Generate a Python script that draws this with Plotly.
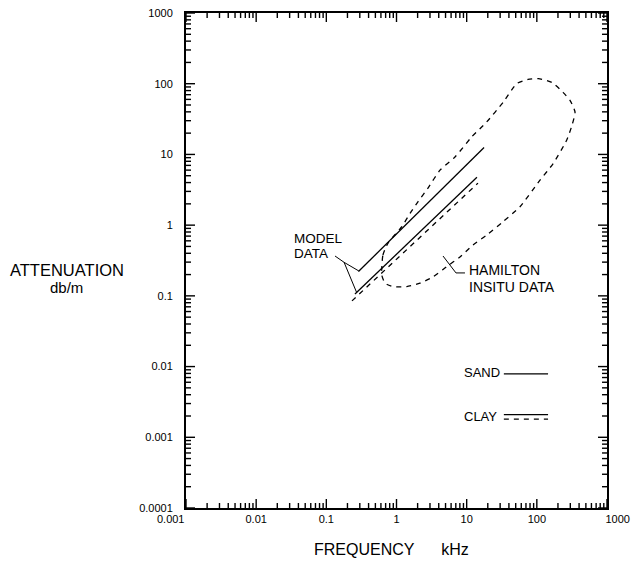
import plotly.graph_objects as go

# ---- axis ticks ----
x_tick_vals = [0.001, 0.01, 0.1, 1, 10, 100, 1000]
x_tick_text = ["0.001", "0.01", "0.1", "1", "10", "100", "1000"]
y_tick_vals = [0.0001, 0.001, 0.01, 0.1, 1, 10, 100, 1000]
y_tick_text = ["0.0001", "0.001", "0.01", "0.1", "1", "10", "100", "1000"]

# ---- model data (frequency kHz, attenuation dB/m) ----
sand_freq = [0.287, 17.7]
sand_atten = [0.221, 12.5]
clay_solid_freq = [0.256, 14.0]
clay_solid_atten = [0.106, 4.77]
clay_dash_freq = [0.232, 14.5]
clay_dash_atten = [0.085, 3.93]

# ---- Hamilton in-situ data envelope (closed loop) ----
hamilton_freq = [0.615, 0.641, 0.757, 1.19, 1.56, 2.02, 2.81, 4.17, 6.82, 11.8,
                 19.3, 33.3, 51.6, 74.8, 105, 164, 236, 297, 350, 317, 266,
                 171, 111, 57.5, 33.0, 19.3, 12.3, 8.03, 5.19, 3.31, 2.16,
                 1.40, 0.90, 0.686, 0.615, 0.615]
hamilton_atten = [0.232, 0.378, 0.558, 0.95, 1.47, 2.14, 3.34, 5.99, 9.2, 17.7,
                  28.8, 55.1, 100, 115, 118, 104, 75.5, 58.2, 39.8, 25.8, 15.9,
                  7.44, 4.33, 1.82, 1.12, 0.724, 0.524, 0.355, 0.259, 0.185,
                  0.151, 0.135, 0.135, 0.151, 0.198, 0.232]

# ---- leader lines for labels ----
model_leader_freq = [0.133, 0.179, 0.29, None, 0.179, 0.27]
model_leader_atten = [0.366, 0.298, 0.225, None, 0.298, 0.112]
hamilton_leader_freq = [4.60, 7.04, 9.46]
hamilton_leader_atten = [0.366, 0.211, 0.211]

FONT = "Liberation Sans, Arial, sans-serif"
DASH = "5px,5px"

W, H = 632, 564
ML, MR, MT, MB = 186, 25, 13, 56
X_RANGE = [-3, 3]
Y_RANGE = [-4, 3]

fig = go.Figure()
fig.add_trace(go.Scatter(x=sand_freq, y=sand_atten, mode="lines",
                         line=dict(color="black", width=1.3), showlegend=False))
fig.add_trace(go.Scatter(x=clay_solid_freq, y=clay_solid_atten, mode="lines",
                         line=dict(color="black", width=1.3), showlegend=False))
fig.add_trace(go.Scatter(x=clay_dash_freq, y=clay_dash_atten, mode="lines",
                         line=dict(color="black", width=1.3, dash=DASH), showlegend=False))
fig.add_trace(go.Scatter(x=hamilton_freq, y=hamilton_atten, mode="lines",
                         line=dict(color="black", width=1.3, dash=DASH, shape="spline",
                                   smoothing=0.6),
                         showlegend=False))
fig.add_trace(go.Scatter(x=model_leader_freq, y=model_leader_atten, mode="lines",
                         line=dict(color="black", width=1.0), showlegend=False,
                         connectgaps=False))
fig.add_trace(go.Scatter(x=hamilton_leader_freq, y=hamilton_leader_atten, mode="lines",
                         line=dict(color="black", width=1.0), showlegend=False))

# ---- inside tick marks on all four sides (derived from the log scales) ----
px_per_dec_x = (W - ML - MR) / (X_RANGE[1] - X_RANGE[0])
px_per_dec_y = (H - MT - MB) / (Y_RANGE[1] - Y_RANGE[0])
x_minor = [m * 10.0 ** e for e in range(X_RANGE[0], X_RANGE[1]) for m in range(2, 10)]
y_minor = [m * 10.0 ** e for e in range(Y_RANGE[0], Y_RANGE[1]) for m in range(2, 10)]

def tick_segments(length_px):
    dy = length_px / px_per_dec_y
    dx = length_px / px_per_dec_x
    return dx, dy

tx, ty = [], []
for vals, L in ((x_tick_vals, 9), (x_minor, 5)):
    dx, dy = tick_segments(L)
    for v in vals:
        tx += [v, v, None, v, v, None]
        ty += [10 ** Y_RANGE[0], 10 ** (Y_RANGE[0] + dy), None,
               10 ** Y_RANGE[1], 10 ** (Y_RANGE[1] - dy), None]
for vals, L in ((y_tick_vals, 9), (y_minor, 5)):
    dx, dy = tick_segments(L)
    for v in vals:
        tx += [10 ** X_RANGE[0], 10 ** (X_RANGE[0] + dx), None,
               10 ** X_RANGE[1], 10 ** (X_RANGE[1] - dx), None]
        ty += [v, v, None, v, v, None]
fig.add_trace(go.Scatter(x=tx, y=ty, mode="lines", line=dict(color="black", width=1.4),
                         showlegend=False, hoverinfo="skip", cliponaxis=False))

nb = "\u00a0"
x_text_disp = list(x_tick_text)
x_text_disp[0] = x_text_disp[0] + nb * 10
x_text_disp[-1] = nb * 7 + x_text_disp[-1]
y_text_disp = [t + nb * 3 for t in y_tick_text]

axis_common = dict(type="log", tickmode="array", ticks="",
                   showline=True, linecolor="black", linewidth=1.6,
                   mirror=True, showgrid=False, zeroline=False, automargin=False,
                   tickfont=dict(family=FONT, size=11, color="black"))

fig.update_xaxes(range=X_RANGE, tickvals=x_tick_vals, ticktext=x_text_disp, **axis_common)
fig.update_yaxes(range=Y_RANGE, tickvals=y_tick_vals, ticktext=y_text_disp, **axis_common)

ann = []
def add_text(txt, x, y, size, xanchor="left"):
    ann.append(dict(text=txt, x=x, y=y, xref="paper", yref="paper", showarrow=False,
                    xanchor=xanchor, yanchor="middle",
                    font=dict(family=FONT, size=size, color="black")))

add_text("ATTENUATION", -0.283, 0.481, 16.5, "center")
add_text("db/m", -0.283, 0.4446, 15, "center")
add_text("FREQUENCY" + nb * 6 + "kHz", 0.487, -0.0837, 16, "center")
add_text("MODEL", 0.252, 0.545, 13.5)
add_text("DATA", 0.252, 0.515, 13.5)
add_text("HAMILTON", 0.668, 0.481, 14)
add_text("INSITU DATA", 0.668, 0.447, 14)
add_text("SAND", 0.656, 0.273, 13)
add_text("CLAY", 0.656, 0.1845, 13)

shapes = [
    dict(type="line", xref="paper", yref="paper", x0=0.755, x1=0.860, y0=0.271, y1=0.271,
         line=dict(color="black", width=1.3)),
    dict(type="line", xref="paper", yref="paper", x0=0.755, x1=0.860, y0=0.1885, y1=0.1885,
         line=dict(color="black", width=1.3)),
    dict(type="line", xref="paper", yref="paper", x0=0.755, x1=0.860, y0=0.1794, y1=0.1794,
         line=dict(color="black", width=1.3, dash=DASH)),
]

fig.update_layout(width=W, height=H, margin=dict(l=ML, r=MR, t=MT, b=MB),
                  paper_bgcolor="white", plot_bgcolor="white",
                  annotations=ann, shapes=shapes, showlegend=False)

fig.write_html("out.html", config={"displayModeBar": False},
               post_script="document.body.style.margin='0px';document.body.style.overflow='hidden';")
